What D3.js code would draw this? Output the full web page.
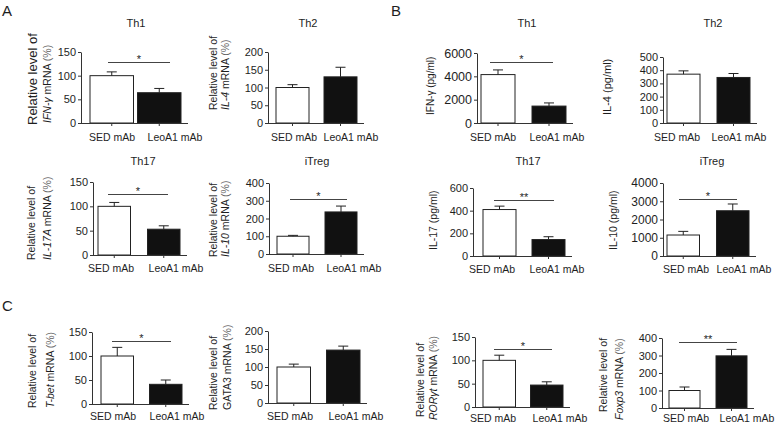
<!DOCTYPE html>
<html><head><meta charset="utf-8">
<script src="https://cdn.jsdelivr.net/npm/d3@7"></script>
<style>
body{margin:0;background:#fff;}
svg text{font-family:"Liberation Sans",Arial,sans-serif;fill:#1e1e1e;}
</style></head>
<body><svg id="chart" width="778" height="426"></svg>
<script>
// ---------- data ----------
const groups = ["SED mAb", "LeoA1 mAb"];
const panelTitles = ["Th1","Th2","Th17","iTreg","Th1","Th2","Th17","iTreg","","","",""];
const meanValues = [
  [100, 64], [100, 130], [100, 53], [100, 237],
  [4150, 1450], [370, 345], [410, 145], [1150, 2480],
  [100, 41], [100, 147], [100, 47], [100, 298]
];
const errorValues = [
  [8, 9], [8, 27], [8, 7], [5, 33],
  [400, 270], [25, 30], [30, 25], [200, 370],
  [18, 9], [8, 11], [11, 7], [20, 37]
];
const tickValues = [
  [0,50,100,150], [0,50,100,150,200], [0,50,100,150], [0,100,200,300,400],
  [0,2000,4000,6000], [0,100,200,300,400,500], [0,200,400,600], [0,1000,2000,3000,4000],
  [0,50,100,150], [0,50,100,150,200], [0,50,100,150], [0,100,200,300,400]
];
const significance = ["*","","*","*","*","","**","*","*","","*","**"];
const geneNames = ["IFN-γ","IL-4","IL-17A","IL-10","","","","","T-bet","GATA3","RORγt","Foxp3"];
const geneItalic = [true,true,true,true,false,false,false,false,true,false,true,true];
const proteinLabels = ["","","","","IFN-γ (pg/ml)","IL-4 (pg/ml)","IL-17 (pg/ml)","IL-10 (pg/ml)","","","",""];
const panelLetters = ["A","B","C"];

// ---------- layout (positions only) ----------
const layout = [
  {ax:81, l1:90, r2:181, gap:4, yb:123, yt:52, tx:136, tyy:27, lx:[32,47], lb:[125,123], lf:[13,10.5], sy:62, sx:[108,170], xl:[112,175], xly:141, tf:11},
  {ax:268, l1:276, r2:357, gap:15, yb:123, yt:52, tx:308, tyy:27, lx:[213,225], lb:[110,110], lf:[10.5,10.5], sy:0, sx:[0,0], xl:[294,351], xly:141, tf:11},
  {ax:93, l1:98, r2:180, gap:17, yb:255, yt:182, tx:143, tyy:165, lx:[31,47], lb:[260,260], lf:[10.5,10.5], sy:194, sx:[108,168], xl:[111,176], xly:272, tf:11},
  {ax:269, l1:277, r2:357, gap:16, yb:254, yt:183, tx:317, tyy:165, lx:[213,225], lb:[257,257], lf:[10.5,10.5], sy:199, sx:[290,347], xl:[291,354], xly:272, tf:11},
  {ax:477, l1:481, r2:566, gap:17, yb:123, yt:53, tx:527, tyy:27, lx:[430], lb:[115], lf:[10], sy:62, sx:[490,553], xl:[493,557], xly:141, tf:12.5},
  {ax:663, l1:667, r2:750, gap:17, yb:123, yt:57, tx:713, tyy:27, lx:[607], lb:[115], lf:[11], sy:0, sx:[0,0], xl:[677,739], xly:141, tf:11},
  {ax:473, l1:483, r2:565, gap:16, yb:256, yt:188, tx:528, tyy:165, lx:[433], lb:[250], lf:[10.5], sy:200, sx:[494,554], xl:[492,557], xly:273, tf:11},
  {ax:663, l1:667, r2:749, gap:17, yb:256, yt:183, tx:712, tyy:165, lx:[613], lb:[250], lf:[10.5], sy:199, sx:[679,737], xl:[686,744], xly:273, tf:12},
  {ax:92, l1:101, r2:182, gap:16, yb:404, yt:332, tx:0, tyy:0, lx:[32,50], lb:[408,408], lf:[10.5,10.5], sy:341, sx:[112,171], xl:[113,177], xly:420, tf:11},
  {ax:268, l1:277, r2:360, gap:16, yb:403, yt:331, tx:0, tyy:0, lx:[213,227], lb:[410,410], lf:[10.5,10.5], sy:0, sx:[0,0], xl:[290,356], xly:420, tf:11},
  {ax:475, l1:483, r2:563, gap:15, yb:407, yt:337, tx:0, tyy:0, lx:[420,433], lb:[417,420], lf:[10.5,10.5], sy:349, sx:[494,552], xl:[493,560], xly:422, tf:11},
  {ax:662, l1:669, r2:747, gap:16, yb:408, yt:338, tx:0, tyy:0, lx:[603,619], lb:[412,420], lf:[10.5,10.5], sy:342, sx:[679,737], xl:[686,747], xly:422, tf:11}
];
const letterPos = [[2,16],[391,16],[2,311]];

const svg = d3.select("#chart");
const lineColor = "#333";
const fontFam = "Liberation Sans, Arial, sans-serif";

panelLetters.forEach((L,i)=>{
  svg.append("text").attr("x",letterPos[i][0]).attr("y",letterPos[i][1])
    .attr("font-size",15).text(L);
});

meanValues.forEach((vals, p) => {
  const lay = layout[p];
  const ticks = tickValues[p];
  const g = svg.append("g");
  const y = d3.scaleLinear().domain([0, d3.max(ticks)]).range([lay.yb, lay.yt]);
  const bw = (lay.r2 - lay.l1 - lay.gap) / 2;
  const x = d3.scaleBand().domain(groups).range([lay.l1, lay.r2])
    .paddingInner(lay.gap / (bw + lay.gap)).paddingOuter(0);

  // bars
  g.selectAll("rect.bar").data(groups).join("rect")
    .attr("x", d => x(d)).attr("width", x.bandwidth())
    .attr("y", (d,i) => y(vals[i])).attr("height", (d,i) => lay.yb - y(vals[i]))
    .attr("fill", (d,i) => i === 0 ? "#fff" : "#111")
    .attr("stroke", "#222").attr("stroke-width", 1);

  // error bars (upper only)
  groups.forEach((grp,i) => {
    const cx = x(grp) + x.bandwidth()/2;
    const top = y(vals[i] + errorValues[p][i]);
    g.append("line").attr("x1",cx).attr("x2",cx).attr("y1",y(vals[i])).attr("y2",top)
      .attr("stroke","#222").attr("stroke-width",1);
    g.append("line").attr("x1",cx-5).attr("x2",cx+5).attr("y1",top).attr("y2",top)
      .attr("stroke","#222").attr("stroke-width",1);
  });

  // y axis
  const yAxis = g.append("g").attr("transform",`translate(${lay.ax},0)`)
    .call(d3.axisLeft(y).tickValues(ticks).tickFormat(d3.format("d")).tickSize(3).tickSizeOuter(0).tickPadding(2));
  yAxis.select(".domain").attr("stroke",lineColor);
  yAxis.selectAll(".tick line").attr("stroke",lineColor);
  yAxis.selectAll("text").attr("font-size",lay.tf).attr("font-family",fontFam).attr("fill","#1e1e1e");

  // x axis baseline
  const xAxisScale = d3.scaleLinear().domain([0,1]).range([lay.ax, lay.r2 + 7]);
  g.append("line").attr("x1",xAxisScale(0)).attr("x2",xAxisScale(1))
    .attr("y1",lay.yb+0.5).attr("y2",lay.yb+0.5).attr("stroke",lineColor);
  const xAxis = g.append("g").attr("transform",`translate(0,${lay.yb})`)
    .call(d3.axisBottom(x).tickSize(3).tickSizeOuter(0).tickFormat(""));
  xAxis.select(".domain").remove();
  xAxis.selectAll(".tick line").attr("stroke",lineColor);
  // category labels
  groups.forEach((grp,i) => {
    g.append("text").attr("x", lay.xl[i]).attr("y", lay.xly)
      .attr("text-anchor","middle").attr("font-size",10.5).text(grp);
  });

  // title
  if (panelTitles[p]) {
    g.append("text").attr("x",lay.tx).attr("y",lay.tyy).attr("text-anchor","middle")
      .attr("font-size",11).text(panelTitles[p]);
  }

  // significance
  if (significance[p]) {
    g.append("line").attr("x1",lay.sx[0]).attr("x2",lay.sx[1])
      .attr("y1",lay.sy+0.5).attr("y2",lay.sy+0.5).attr("stroke","#444");
    g.append("text").attr("x",(lay.sx[0]+lay.sx[1])/2).attr("y",lay.sy+1)
      .attr("text-anchor","middle").attr("font-size",11).text(significance[p]);
  }

  // y label
  if (proteinLabels[p]) {
    g.append("text").attr("transform",`translate(${lay.lx[0]},${lay.lb[0]}) rotate(-90)`)
      .attr("text-anchor","start").attr("dominant-baseline","central")
      .attr("font-size",lay.lf[0]).text(proteinLabels[p]);
  } else {
    g.append("text").attr("transform",`translate(${lay.lx[0]},${lay.lb[0]}) rotate(-90)`)
      .attr("text-anchor","start").attr("dominant-baseline","central")
      .attr("font-size",lay.lf[0]).text("Relative level of");
    const t2 = g.append("text").attr("transform",`translate(${lay.lx[1]},${lay.lb[1]}) rotate(-90)`)
      .attr("text-anchor","start").attr("dominant-baseline","central")
      .attr("font-size",lay.lf[1]);
    t2.append("tspan").attr("font-style", geneItalic[p] ? "italic" : "normal").text(geneNames[p]);
    t2.append("tspan").text(" mRNA ");
    t2.append("tspan").attr("fill","#666").text("(%)");
  }
});
</script></body></html>
